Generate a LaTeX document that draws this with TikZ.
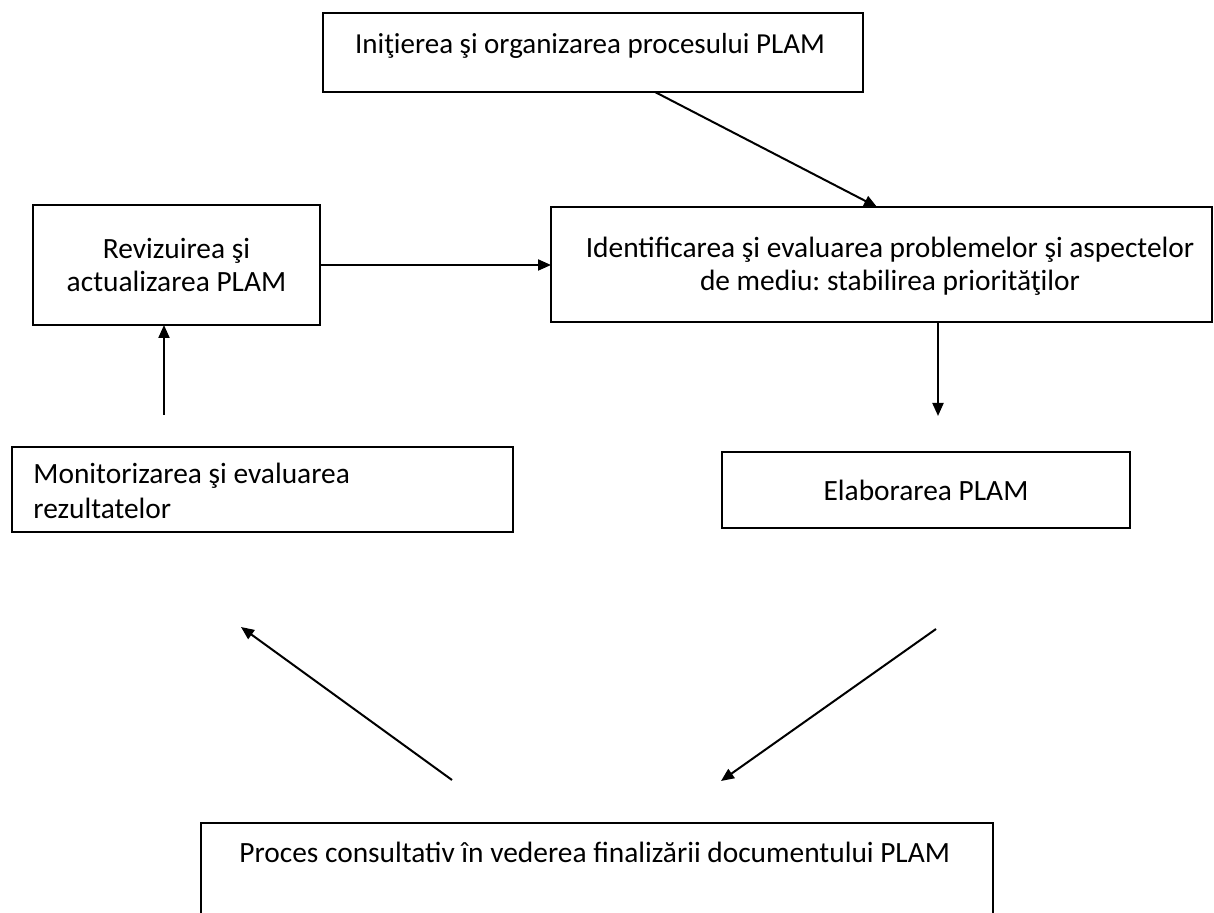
\documentclass[tikz,border=0pt]{standalone}
\usepackage{fontspec}
\setmainfont{Carlito}
\usetikzlibrary{arrows.meta}
\frenchspacing

\tikzset{
  box/.style={draw, line width=1.1pt, inner sep=0pt, outer sep=0pt, anchor=north west},
  txt/.style={font=\fontsize{14.7}{16.5}\selectfont, align=center, inner sep=0pt},
  arr/.style={line width=1pt, -{Triangle[length=6.5pt,width=5.5pt]}}
}

\begin{document}
\begin{tikzpicture}[x=0.5pt,y=-0.5pt]
  % Page of the scan
  \clip (0,0) rectangle (1214,913);
  \fill[white] (0,0) rectangle (1214,913);

  % Top box
  \node[box, minimum width=270pt, minimum height=39.5pt] (init) at (323,13) {};
  \node[txt, font=\fontsize{14.5}{16.5}\selectfont] (initT) at (590,46) {Iniţierea şi organizarea procesului PLAM};

  % Middle row
  \node[box, txt, minimum width=143.5pt, minimum height=60pt] (rev) at (33,205) {Revizuirea şi\\actualizarea PLAM};
  \node[box, minimum width=330.5pt, minimum height=57.5pt] (ident) at (551,207) {};
  \node[txt] (identT) at (890,266) {Identificarea şi evaluarea problemelor şi aspectelor\\de mediu: stabilirea priorităţilor};

  % Lower row
  \node[box, minimum width=250.5pt, minimum height=42.5pt] (mon) at (12,447) {};
  \node[txt, font=\fontsize{14.7}{17.5}\selectfont, align=flush left, anchor=west] (monT) at (33,491) {Monitorizarea şi evaluarea\\rezultatelor};
  \node[box, txt, minimum width=204pt, minimum height=38pt] (elab) at (722,452) {Elaborarea PLAM};

  % Bottom box (cut by the page edge)
  \node[box, minimum width=396pt, minimum height=100pt] (proc) at (201,823) {};
  \node[txt, anchor=west] (procT) at (239,852) {Proces consultativ în vederea finalizării documentului PLAM};

  % Free ends of the arrows
  \coordinate (e1) at (938,416);
  \coordinate (m1) at (164,415);
  \coordinate (e2) at (936,629);
  \coordinate (p1) at (721,781);
  \coordinate (p2) at (452,780);
  \coordinate (m2) at (241,627);

  % Arrows
  \draw[arr] ([xshift=166pt]init.south west) -- ([xshift=163pt]ident.north west);
  \draw[arr] (rev.east) -- (ident.west |- rev.east);
  \draw[arr] (ident.south -| e1) -- (e1);
  \draw[arr] (m1) -- (rev.south -| m1);
  \draw[arr] (e2) -- (p1);
  \draw[arr] (p2) -- (m2);
\end{tikzpicture}
\end{document}
